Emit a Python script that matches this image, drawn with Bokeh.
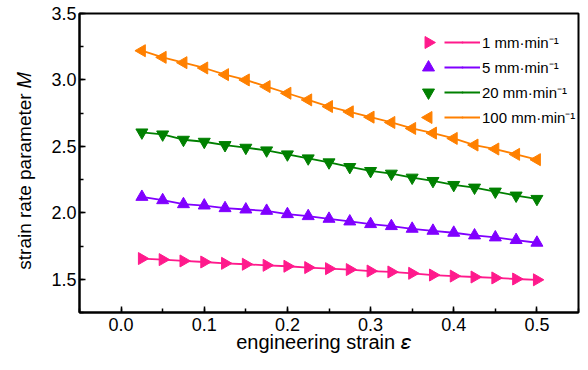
import math
from bokeh.plotting import figure
from bokeh.models import (Range1d, FixedTicker, PrintfTickFormatter, Legend, LegendItem)
from bokeh.embed import file_html
from bokeh.resources import INLINE

# ---- data -------------------------------------------------------------
strain = [0.025, 0.05, 0.075, 0.1, 0.125, 0.15, 0.175, 0.2, 0.225, 0.25,
          0.275, 0.3, 0.325, 0.35, 0.375, 0.4, 0.425, 0.45, 0.475, 0.5]
m_1 = [1.656, 1.648, 1.638, 1.630, 1.620, 1.613, 1.605, 1.598, 1.588, 1.580,
       1.573, 1.562, 1.555, 1.545, 1.532, 1.524, 1.517, 1.510, 1.502, 1.496]
m_5 = [2.120, 2.095, 2.065, 2.055, 2.035, 2.025, 2.015, 1.990, 1.975, 1.955,
       1.935, 1.915, 1.900, 1.880, 1.865, 1.850, 1.830, 1.815, 1.795, 1.775]
m_20 = [2.605, 2.590, 2.550, 2.535, 2.510, 2.490, 2.470, 2.440, 2.410, 2.380,
        2.345, 2.315, 2.295, 2.265, 2.240, 2.210, 2.190, 2.160, 2.130, 2.105]
m_100 = [3.220, 3.170, 3.130, 3.090, 3.040, 3.000, 2.950, 2.900, 2.850, 2.800,
         2.760, 2.720, 2.680, 2.635, 2.600, 2.560, 2.510, 2.480, 2.440, 2.400]
series_labels = ["1 mm·min⁻¹", "5 mm·min⁻¹", "20 mm·min⁻¹", "100 mm·min⁻¹"]
x_ticks = [0.0, 0.1, 0.2, 0.3, 0.4, 0.5]
y_ticks = [1.5, 2.0, 2.5, 3.0, 3.5]
x_label = "engineering strain 𝜀"
y_label = "strain rate parameter 𝑀"

colors = ["#FF1A8C", "#8000FF", "#008000", "#FF8000"]
markers = ["triangle", "triangle", "inverted_triangle", "triangle"]
angles = [-math.pi / 2, 0.0, 0.0, math.pi / 2]

FONT = "Liberation Sans"
X0, X1, Y0, Y1 = -0.05, 0.55, 1.25, 3.5

# layout (px)
W, H = 580, 362
BL, BR, BT, BB = 79, 2, 13, 50
FW, FH = W - BL - BR, H - BT - BB

p = figure(width=W, height=H, output_backend="svg", toolbar_location=None,
           x_range=Range1d(X0, X1), y_range=Range1d(Y0, Y1),
           min_border_left=BL, min_border_right=BR, min_border_top=BT, min_border_bottom=BB)
p.background_fill_color = "white"
p.border_fill_color = "white"
p.grid.visible = False
p.outline_line_color = "black"
p.outline_line_width = 2

NBSP = "\u00a0"
p.xaxis[0].axis_label = x_label + NBSP * 2
p.yaxis[0].axis_label = y_label + NBSP * 3

for ax in (p.xaxis[0], p.yaxis[0]):
    ax.axis_line_width = 2
    ax.axis_line_color = "black"
    ax.major_tick_in = 6
    ax.major_tick_out = 0
    ax.minor_tick_in = 4
    ax.minor_tick_out = 0
    ax.major_tick_line_width = 1.5
    ax.minor_tick_line_width = 1.5
    ax.major_label_text_font = FONT
    ax.major_label_text_font_size = "18px"
    ax.major_label_text_color = "black"
    ax.axis_label_text_font = FONT
    ax.axis_label_text_font_style = "normal"
    ax.axis_label_text_color = "black"
    ax.formatter = PrintfTickFormatter(format="%.1f")

p.xaxis[0].axis_label_text_font_size = "20px"
p.yaxis[0].axis_label_text_font_size = "19px"
p.xaxis[0].axis_label_standoff = -3
p.yaxis[0].axis_label_standoff = 13

p.xaxis[0].ticker = FixedTicker(ticks=x_ticks, minor_ticks=[-0.05 + 0.05 * i for i in range(13)])
p.yaxis[0].ticker = FixedTicker(ticks=y_ticks, minor_ticks=[1.25 + 0.25 * i for i in range(10)])
p.xaxis[0].major_label_standoff = 5
p.yaxis[0].major_label_standoff = 3

series = [m_1, m_5, m_20, m_100]
line_items = []
for vals, col, mk, ang, lab in zip(series, colors, markers, angles, series_labels):
    ln = p.line(strain, vals, line_color=col, line_width=1.8)
    dt = p.scatter(strain, vals, marker="dot", size=8, color=col)
    p.scatter(strain, vals, marker=mk, angle=ang, size=12, fill_color=col, line_color=col)
    line_items.append(LegendItem(label=lab, renderers=[ln, dt]))

# legend: line + label part (location = left, bottom in px from frame's bottom-left)
LEG_TOP, ROW_H, ROW_GAP = 19, 20, 5
n_rows = len(series_labels)
leg_h = n_rows * ROW_H + (n_rows - 1) * ROW_GAP
leg_lines = Legend(items=line_items, location=(365, FH - LEG_TOP - leg_h), margin=0, padding=0,
                   glyph_width=36, glyph_height=ROW_H, label_height=ROW_H, spacing=ROW_GAP,
                   label_standoff=2, border_line_alpha=0, background_fill_alpha=0,
                   label_text_font=FONT, label_text_font_size="15px",
                   label_text_color="black")
p.add_layout(leg_lines)

# legend symbol keys (rotated triangles), placed to the left of each legend row
KEY_PX = 428 - BL
key_x = X0 + KEY_PX / FW * (X1 - X0)
for i, (col, mk, ang) in enumerate(zip(colors, markers, angles)):
    row_py = LEG_TOP + ROW_H / 2 + i * (ROW_H + ROW_GAP)
    key_y = Y1 - row_py / FH * (Y1 - Y0)
    p.scatter([key_x], [key_y], marker=mk, angle=ang, size=12, fill_color=col, line_color=col)

open("out.html", "w").write(file_html(p, INLINE))
